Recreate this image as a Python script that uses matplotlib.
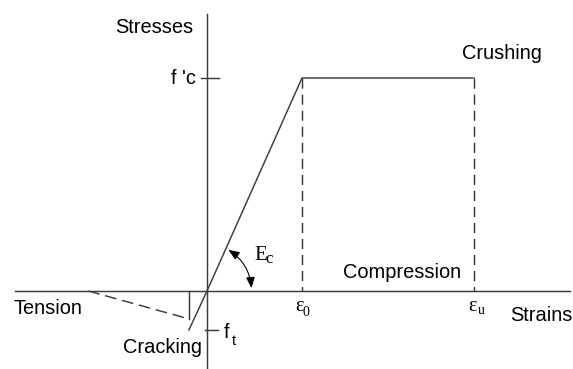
import numpy as np
import matplotlib.pyplot as plt
from matplotlib.patches import FancyArrowPatch

# Idealised concrete stress-strain law (strain in units of eps0, stress in units of f'c)
eps_cr, f_t = -0.19, -0.183          # cracking point in tension
eps_0, eps_u = 1.0, 2.81             # peak strain, ultimate strain
f_c = 1.0                            # compressive strength
eps_soft_end = -1.25                 # end of tension softening branch
sig_soft_start = -0.131              # start of softening branch after cracking

curve_eps = [eps_cr, 0.0, eps_0, eps_u]
curve_sig = [f_t, 0.0, f_c, f_c]

sans = 'Liberation Sans'
serif = 'Liberation Serif'
lc = '#3c3c3c'
lw = 1.05

fig = plt.figure(figsize=(5.73, 3.69), dpi=100)
ax = fig.add_axes([0, 0, 1, 1])
ax.set_xlim(-207 / 95, (573 - 207) / 95)
ax.set_ylim(-78 / 213, 291 / 213)
ax.axis('off')

# axes of the diagram
ax.plot([-2.02, 3.82], [0, 0], color=lc, lw=lw)
ax.plot([0, 0], [-0.37, 1.30], color=lc, lw=lw)

# main curve
ax.plot(curve_eps, curve_sig, color=lc, lw=lw)

# cracking drop and softening branch
ax.plot([eps_cr, eps_cr], [0, sig_soft_start], color=lc, lw=lw)
ax.plot([eps_soft_end, eps_cr], [0, sig_soft_start], color=lc, lw=lw,
        dashes=(8, 4))

# dashed verticals at eps0 and epsu
for e in (eps_0, eps_u):
    ax.plot([e, e], [f_c, 0], color=lc, lw=lw, dashes=(7, 4))

# small ticks on the stress axis
ax.plot([-0.063, 0.126], [f_c, f_c], color=lc, lw=lw)
ax.plot([-0.02, 0.116], [f_t, f_t], color=lc, lw=lw)

# modulus arc with arrows
arc = FancyArrowPatch((0.47, 0.0), (0.2, 0.2), connectionstyle='arc3,rad=0.27',
                      arrowstyle='<|-|>,head_length=0.55,head_width=0.22',
                      mutation_scale=12, color='black', lw=0.8)
ax.add_patch(arc)

fs = 14.4
ax.text(-0.147, 1.239, 'Stresses', ha='right', va='center', fontsize=fs, family=sans)
ax.text(3.105, 1.113, 'Crushing', ha='center', va='center', fontsize=fs, family=sans)
ax.text(-0.116, f_c, "f 'c", ha='right', va='center', fontsize=fs, family=sans)
ax.text(2.05, 0.085, 'Compression', ha='center', va='center', fontsize=fs, family=sans)
ax.text(-2.04, -0.08, 'Tension', ha='left', va='center', fontsize=fs, family=sans)
ax.text(3.19, -0.113, 'Strains', ha='left', va='center', fontsize=fs, family=sans)
ax.text(-0.47, -0.263, 'Cracking', ha='center', va='center', fontsize=fs, family=sans)
ax.text(0.18, -0.197, 'f', ha='left', va='center', fontsize=fs, family=sans)
ax.text(0.265, -0.235, 't', ha='left', va='center', fontsize=10.5, family=sans)

ax.text(0.495, 0.169, 'E', ha='left', va='center', fontsize=15, family=serif)
ax.text(0.615, 0.15, 'c', ha='left', va='center', fontsize=12, family=serif)
ax.text(0.926, -0.075, 'ε', ha='left', va='center', fontsize=14.4, family=serif)
ax.text(1.01, -0.099, '0', ha='left', va='center', fontsize=10, family=serif)
ax.text(2.747, -0.075, 'ε', ha='left', va='center', fontsize=14.4, family=serif)
ax.text(2.853, -0.09, 'u', ha='left', va='center', fontsize=10, family=serif)

fig.savefig('out.png', dpi=100, facecolor='white')
